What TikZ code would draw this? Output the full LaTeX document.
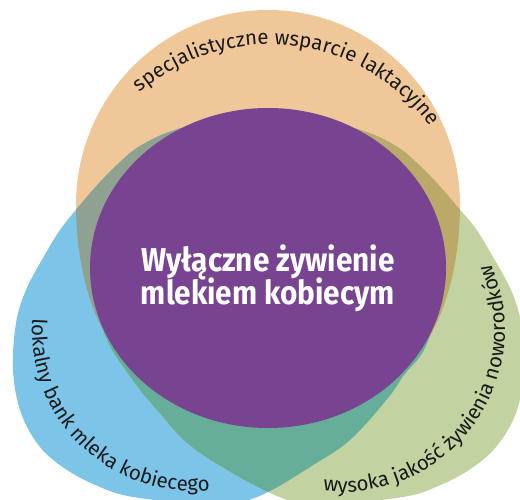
\documentclass[tikz,border=0pt]{standalone}
\usepackage{fontspec}
\setmainfont{Fira Sans}
\newfontfamily\titlefont[FakeStretch=0.9]{Fira Sans}
\newfontfamily\labelfont{Fira Sans}
\usetikzlibrary{decorations.text}
\definecolor{orangeC}{HTML}{F0C799}
\definecolor{blueC}{HTML}{7DC5E8}
\definecolor{greenC}{HTML}{C2D3A1}
\definecolor{purpleC}{HTML}{784492}
\definecolor{greyC}{HTML}{8FA191}
\definecolor{oliveC}{HTML}{BBA96A}
\definecolor{tealC}{HTML}{66AE99}
\def\orangepath{(76,205) arc[start angle=180, end angle=360, x radius=192, y radius=195]
  .. controls (460,260) and (447,305) .. (432,332)
  .. controls (415,375) and (330,412) .. (268,412)
  .. controls (206,412) and (121,375) .. (104,332)
  .. controls (89,305) and (76,260) .. (76,205) -- cycle}
\def\bluepath{plot[smooth cycle, tension=0.6] coordinates {(200,504) (133,497) (100,487) (67,470) (40,447) (21,413) (13,370) (16,323) (26,290) (43,258) (60,230) (80,205) (100,182) (120,162) (140,146) (172,131) (215,122) (280,130) (350,165) (405,220) (430,275) (434,315) (424,350) (404,375) (388,398) (350,440) (310,467) (270,491) (240,502)}}
\def\greenpath{plot[smooth cycle, tension=0.6] coordinates {(336,504) (403,497) (436,487) (469,470) (496,447) (516,413) (524,370) (521,323) (511,290) (493,257) (476,229) (456,205) (436,182) (416,162) (396,146) (364,131) (321,122) (256,130) (186,165) (131,220) (106,272) (97,305) (103,330) (112,350) (124,368) (140,390) (157,410) (187,443) (227,470) (266,491) (296,502)}}
\tikzset{
  titletext/.style={text=white, inner sep=0pt, anchor=base,
    font=\titlefont\bfseries\fontsize{33}{33}\selectfont},
  arclabel/.style={decorate, decoration={text along path, text align=center, text={|\labelfont\fontsize{20.5}{20.5}\selectfont\color{black!90}|#1}}}
}
\begin{document}
\begin{tikzpicture}[x=1pt, y=-1pt]
\useasboundingbox (0,0) rectangle (520,500);
\clip (0,0) rectangle (520,500);
\fill[orangeC] \orangepath;
\fill[blueC] \bluepath;
\fill[greenC] \greenpath;
\begin{scope}
  \clip \bluepath;
  \fill[greyC] \orangepath;
\end{scope}
\begin{scope}
  \clip \greenpath;
  \fill[oliveC] \orangepath;
\end{scope}
\begin{scope}
  \clip \bluepath;
  \fill[tealC] \greenpath;
\end{scope}
\fill[purpleC] (268,268) ellipse[x radius=178, y radius=160];
\node[titletext] (line1) at (268,272) {Wyłączne żywienie};
\node[titletext] (line2) at (268,305) {mlekiem kobiecym};
\path[arclabel={specjalistyczne wsparcie laktacyjne}] (269.5,242.5) ++(-140.9:198) arc[start angle=-140.9, end angle=-25.7, radius=198];
\path[arclabel={lokalny bank mleka kobiecego}] (193,330) ++(196:161) arc[start angle=196, end angle=72, radius=161];
\path[arclabel={wysoka jakość żywienia noworodków}] (343,330) ++(107:162) arc[start angle=107, end angle=-34, radius=162];
\end{tikzpicture}
\end{document}
